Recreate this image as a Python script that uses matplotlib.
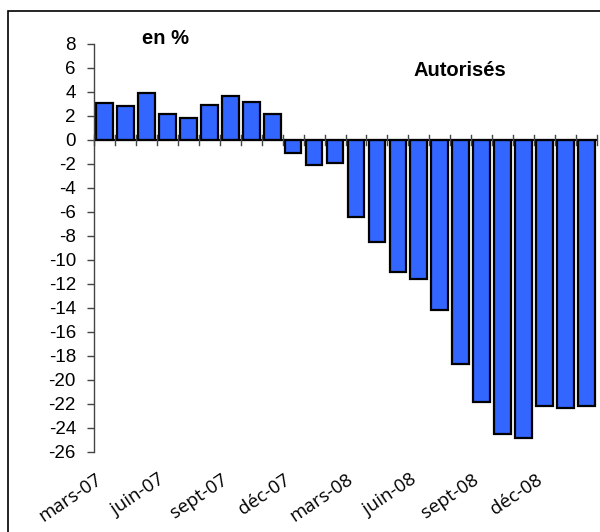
import matplotlib.pyplot as plt
from matplotlib.patches import Rectangle

# monthly change, mars-07 .. fev-09 (en %)
months = ['mars-07', 'avr-07', 'mai-07', 'juin-07', 'juil-07', 'août-07',
          'sept-07', 'oct-07', 'nov-07', 'déc-07', 'janv-08', 'févr-08',
          'mars-08', 'avr-08', 'mai-08', 'juin-08', 'juil-08', 'août-08',
          'sept-08', 'oct-08', 'nov-08', 'déc-08', 'janv-09', 'févr-09']
values = [3.05, 2.8, 3.9, 2.15, 1.8, 2.9, 3.65, 3.15, 2.2,
          -1.1, -2.1, -1.9, -6.4, -8.5, -11.0, -11.6, -14.2, -18.7,
          -21.8, -24.5, -24.8, -22.2, -22.3, -22.2]
yticks = list(range(-26, 9, 2))

fig = plt.figure(figsize=(6, 5.32), dpi=100)
ax = fig.add_axes([94/600, 1 - 452/532, 503/600, (452 - 44)/532])

x = list(range(len(months)))
ax.bar(x, values, width=0.8, color='#3366FF', edgecolor='black', linewidth=1.6, zorder=2)

ax.set_xlim(-0.5, len(months) - 0.5)
ax.set_ylim(-26, 8)

for s in ['top', 'right', 'bottom']:
    ax.spines[s].set_visible(False)
ax.spines['left'].set_color('#444444')
ax.spines['left'].set_linewidth(1.0)
ax.axhline(0, color='black', linewidth=1.5, zorder=3)

ax.set_yticks(yticks)
ax.set_yticklabels([str(v) for v in yticks], fontsize=13.5, family='Liberation Sans')
ax.tick_params(axis='y', direction='out', length=5, width=1, color='#444444', pad=8)

# x ticks between bars, drawn across the zero line
ax.set_xticks([])
for b in [i - 0.5 for i in range(len(months) + 1)]:
    ax.plot([b, b], [-0.45, 0.45], color='#444444', linewidth=1, zorder=3, clip_on=False)

# labels at the bottom, one every three months
trans = ax.get_xaxis_transform()
for i in range(0, len(months), 3):
    ax.text(i - 0.45, -0.045, months[i], transform=trans, rotation=34,
            rotation_mode='anchor', ha='right', va='top', fontsize=13.5,
            family='Open Sans')

fig.text(166/600, 1 - 39/532, 'en %', ha='center', va='center', fontsize=14.5,
         fontweight='bold', family='Liberation Sans')
fig.text(460/600, 1 - 70/532, 'Autorisés', ha='center', va='center', fontsize=14.5,
         fontweight='bold', family='Liberation Sans')

fig.patches.append(Rectangle((8/600, -0.1), 1.2, 1.1 - 11/532, transform=fig.transFigure,
                             fill=False, edgecolor='black', linewidth=1.2))

fig.savefig('out.png', dpi=100)
